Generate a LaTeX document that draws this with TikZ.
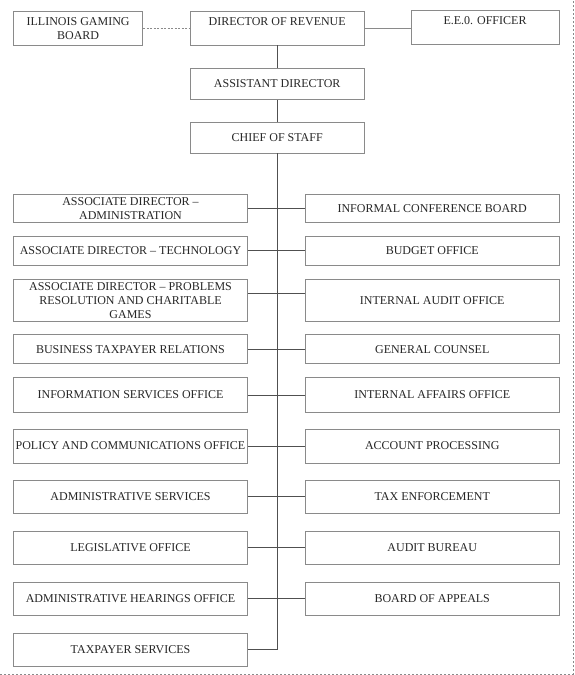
\documentclass[tikz,border=0pt]{standalone}
\usepackage{fontspec}
\setmainfont{Liberation Serif}
\begin{document}
\begin{tikzpicture}[x=1pt,y=-1pt,
  box/.style={draw=boxgray,line width=0.8pt,inner sep=0pt,align=center,
    text=black!85,font=\fontsize{12}{14}\selectfont},
  lbox/.style={box,minimum width=234pt},
  rbox/.style={box,minimum width=253.5pt},
  cbox/.style={box,minimum width=173.7pt},
  link/.style={draw=linegray,line width=0.8pt}]
\definecolor{boxgray}{HTML}{8A8A8A}
\definecolor{linegray}{HTML}{505050}
\useasboundingbox (0,0) rectangle (575,675);
% frame
\draw[boxgray,line width=0.8pt,dash pattern=on 2pt off 2pt] (0,674) -- (573,674) -- (573,0);
% top
\node[box,minimum width=129.2pt,minimum height=33.5pt] (igb) at (78.1,28.25) {ILLINOIS GAMING\\BOARD};
\node[cbox,minimum height=33.5pt] (dir) at (277.2,28.25) {DIRECTOR OF REVENUE\\[-4pt]\strut};
\node[box,minimum width=148pt,minimum height=33.5pt] (eeo) at (485,27.5) {E.E.0. OFFICER\\[-4pt]\strut};
\node[cbox,minimum height=31.5pt] (asst) at (277.2,83.75) {ASSISTANT DIRECTOR};
\node[cbox,minimum height=31pt] (chief) at (277.2,137.5) {CHIEF OF STAFF};
% left column
\node[lbox,minimum height=28pt] (l1) at (130.5,208.3) {ASSOCIATE DIRECTOR --\\ADMINISTRATION};
\node[lbox,minimum height=28.3pt] (l2) at (130.5,250.8) {ASSOCIATE DIRECTOR -- TECHNOLOGY};
\node[lbox,minimum height=41.7pt] (l3) at (130.5,300.2) {ASSOCIATE DIRECTOR -- PROBLEMS\\RESOLUTION AND CHARITABLE\\GAMES};
\node[lbox,minimum height=29pt] (l4) at (130.5,349.2) {BUSINESS TAXPAYER RELATIONS};
\node[lbox,minimum height=34.6pt] (l5) at (130.5,395) {INFORMATION SERVICES OFFICE};
\node[lbox,minimum height=34pt] (l6) at (130.5,446) {POLICY AND COMMUNICATIONS OFFICE};
\node[lbox,minimum height=33.3pt] (l7) at (130.5,496.7) {ADMINISTRATIVE SERVICES};
\node[lbox,minimum height=33.3pt] (l8) at (130.5,547.7) {LEGISLATIVE OFFICE};
\node[lbox,minimum height=33pt] (l9) at (130.5,598.8) {ADMINISTRATIVE HEARINGS OFFICE};
\node[lbox,minimum height=33pt] (l10) at (130.5,649.5) {TAXPAYER SERVICES};
% right column
\node[rbox,minimum height=28pt] (r1) at (432.25,208.3) {INFORMAL CONFERENCE BOARD};
\node[rbox,minimum height=28.3pt] (r2) at (432.25,250.8) {BUDGET OFFICE};
\node[rbox,minimum height=41.7pt] (r3) at (432.25,300.2) {INTERNAL AUDIT OFFICE};
\node[rbox,minimum height=29pt] (r4) at (432.25,349.2) {GENERAL COUNSEL};
\node[rbox,minimum height=34.6pt] (r5) at (432.25,395) {INTERNAL AFFAIRS OFFICE};
\node[rbox,minimum height=34pt] (r6) at (432.25,446) {ACCOUNT PROCESSING};
\node[rbox,minimum height=33.3pt] (r7) at (432.25,496.7) {TAX ENFORCEMENT};
\node[rbox,minimum height=33.3pt] (r8) at (432.25,547.7) {AUDIT BUREAU};
\node[rbox,minimum height=33pt] (r9) at (432.25,598.8) {BOARD OF APPEALS};
% connectors
\draw[link,draw=boxgray,dash pattern=on 2pt off 1.5pt] (igb.east) -- (dir.west);
\draw[link,draw=boxgray] (dir.east) -- (dir.east -| eeo.west);
\coordinate (vend) at (chief.south |- l10.east);
\draw[link] (dir.south) -- (asst.north);
\draw[link] (asst.south) -- (chief.north);
\draw[link] (chief.south) -- (vend);
\draw[link] (l10.east) -- (vend);
\foreach \i in {1,2,4,5,6,7,8,9} {\draw[link] (l\i.east) -- (r\i.west);}
\draw[link] ([yshift=7pt]l3.east) -- ([yshift=7pt]r3.west);
\end{tikzpicture}
\end{document}
